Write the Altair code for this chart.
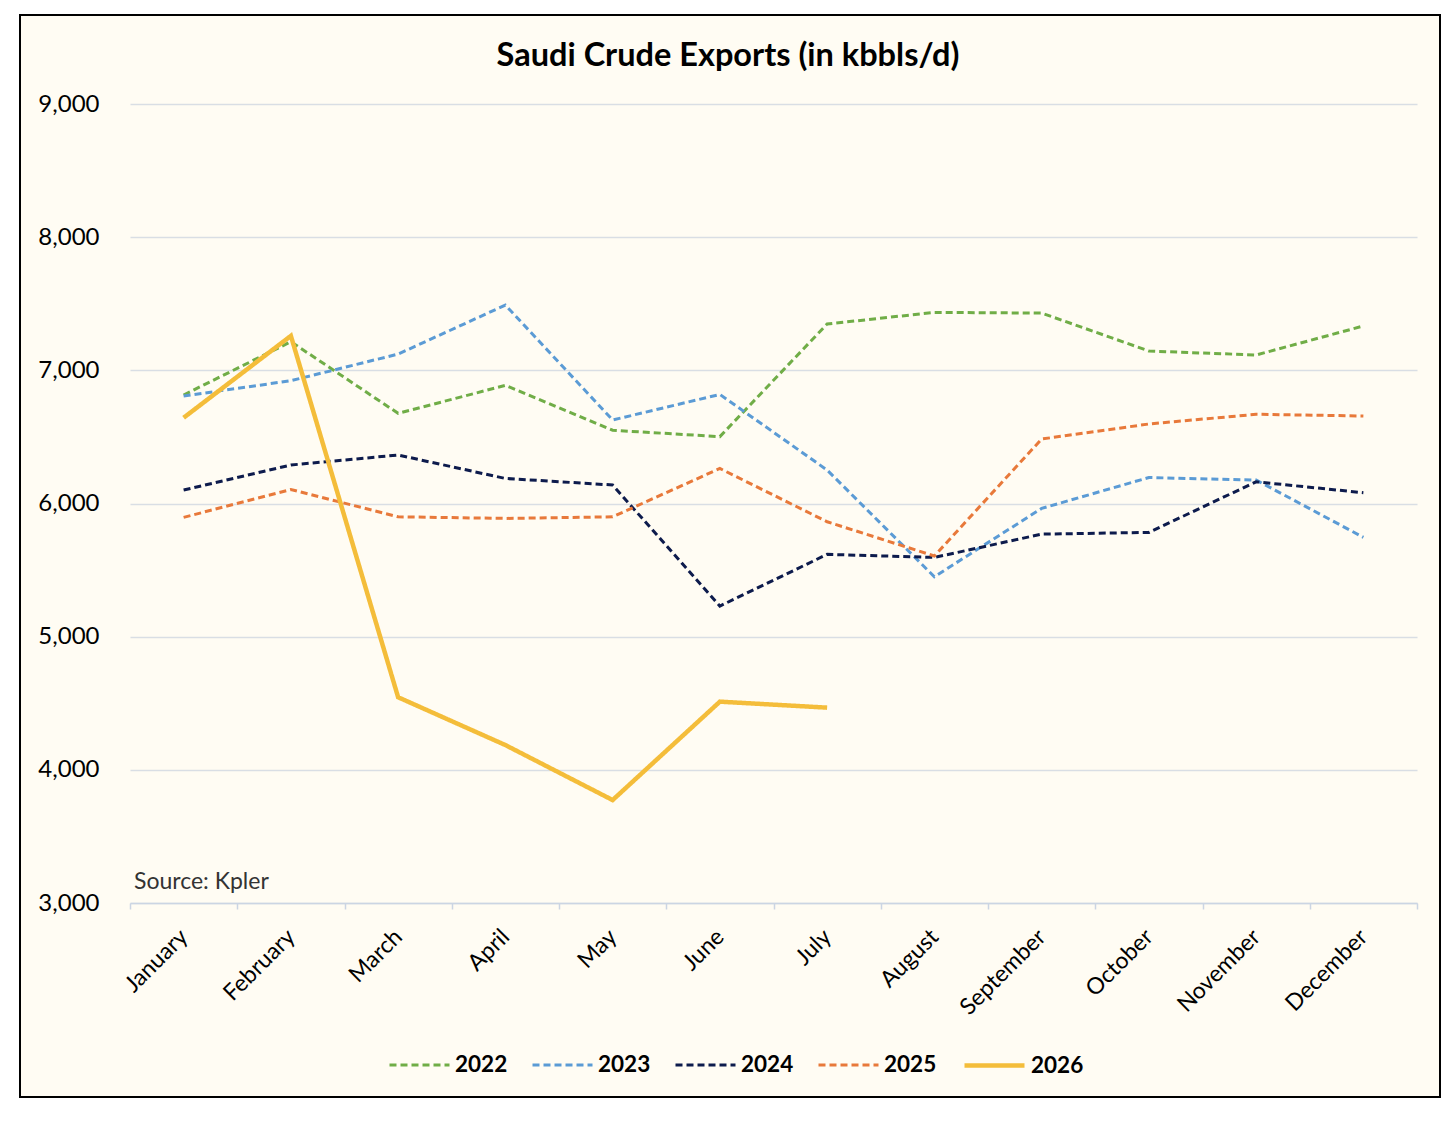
import altair as alt
import pandas as pd

months = ["January", "February", "March", "April", "May", "June", "July",
          "August", "September", "October", "November", "December"]
years = ["2022", "2023", "2024", "2025", "2026"]

v2022 = [6815, 7215, 6677, 6887, 6550, 6502, 7348, 7435, 7430, 7145, 7115, 7333]
v2023 = [6807, 6922, 7122, 7490, 6627, 6819, 6251, 5450, 5963, 6195, 6176, 5746]
v2024 = [6101, 6289, 6364, 6188, 6139, 5230, 5618, 5595, 5770, 5783, 6163, 6081]
v2025 = [5896, 6105, 5900, 5888, 5900, 6263, 5863, 5606, 6484, 6597, 6670, 6657]
v2026 = [6644, 7259, 4545, 4186, 3773, 4512, 4467]

series = {"2022": v2022, "2023": v2023, "2024": v2024, "2025": v2025, "2026": v2026}
rows = []
for y, vals in series.items():
    for m, v in zip(months, vals):
        rows.append({"month": m, "year": y, "value": v})
df = pd.DataFrame(rows)

colors = ["#70AD47", "#5B9BD5", "#0D1B4C", "#E8793A", "#F4BD3A"]
dashes = [[7, 4], [7, 4], [7, 4], [7, 4], [1, 0]]
widths = [3, 3, 3, 3, 4.5]

FONT = "Lato"
BG = "#FFFCF3"

def legend():
    return alt.Legend(title=None, orient="none", legendX=258, legendY=929,
                      direction="horizontal", symbolType="stroke",
                      symbolSize=3600, labelFontSize=22.5,
                      labelFontWeight="bold", labelFont=FONT,
                      labelColor="black", labelOffset=4,
                      columnPadding=18)

# plot area origin on page is (130, 104); chart origin on page is (8, 8)
outside = alt.Chart(alt.Data(values=[{}])).mark_rect(
    fill="white", fillOpacity=0, stroke="white", strokeWidth=40
).encode(
    x=alt.value(-130), x2=alt.value(1330),
    y=alt.value(-109), y2=alt.value(1013)
)
frame = alt.Chart(alt.Data(values=[{}])).mark_rect(
    fill="white", fillOpacity=0, stroke="black", strokeWidth=2
).encode(
    x=alt.value(-110), x2=alt.value(1310),
    y=alt.value(-89), y2=alt.value(993)
)

lines = alt.Chart(df).mark_line(strokeCap="butt").encode(
    x=alt.X("month:N", sort=months,
            scale=alt.Scale(type="band", paddingInner=0, paddingOuter=0),
            axis=alt.Axis(title=None, labelAngle=-45, labelAlign="right",
                          labelBaseline="middle", labelPadding=24,
                          labelFontSize=23, labelColor="black", labelFont=FONT,
                          domainColor="#CBD5E3", domainWidth=1.5,
                          tickBand="extent", tickColor="#CBD5E3", tickSize=6,
                          tickWidth=1.5, grid=False)),
    y=alt.Y("value:Q",
            scale=alt.Scale(domain=[3000, 9000], nice=False, zero=False),
            axis=alt.Axis(title=None, values=[3000, 4000, 5000, 6000, 7000, 8000, 9000],
                          format=",.0f", labelFontSize=24, labelColor="black",
                          labelFont=FONT, labelPadding=31, domain=False, ticks=False,
                          grid=True, gridColor="#D9DEE4", gridWidth=1.5)),
    color=alt.Color("year:N", scale=alt.Scale(domain=years, range=colors), legend=legend()),
    strokeDash=alt.StrokeDash("year:N", scale=alt.Scale(domain=years, range=dashes),
                              legend=legend()),
    strokeWidth=alt.StrokeWidth("year:N",
                                scale=alt.Scale(type="ordinal", domain=years, range=widths),
                                legend=legend()),
)

title = alt.Chart(alt.Data(values=[{"t": "Saudi Crude Exports (in kbbls/d)"}])).mark_text(
    font=FONT, fontSize=32.5, fontWeight="bold", color="black",
    align="center", baseline="alphabetic"
).encode(x=alt.value(598), y=alt.value(-38), text="t:N")

source = alt.Chart(alt.Data(values=[{"t": "Source: Kpler"}])).mark_text(
    font=FONT, fontSize=23, color="#333333", align="left", baseline="alphabetic"
).encode(x=alt.value(4), y=alt.value(785), text="t:N")

chart = alt.layer(lines, title, source, outside, frame).properties(
    width=1287, height=799,
    autosize=alt.AutoSizeParams(type="none"),
    padding={"left": 122, "top": 96, "right": 30, "bottom": 200},
    background=BG,
).configure(font=FONT).configure_view(stroke=None)

chart.save("out.html", embed_options={"renderer": "svg", "actions": False})
